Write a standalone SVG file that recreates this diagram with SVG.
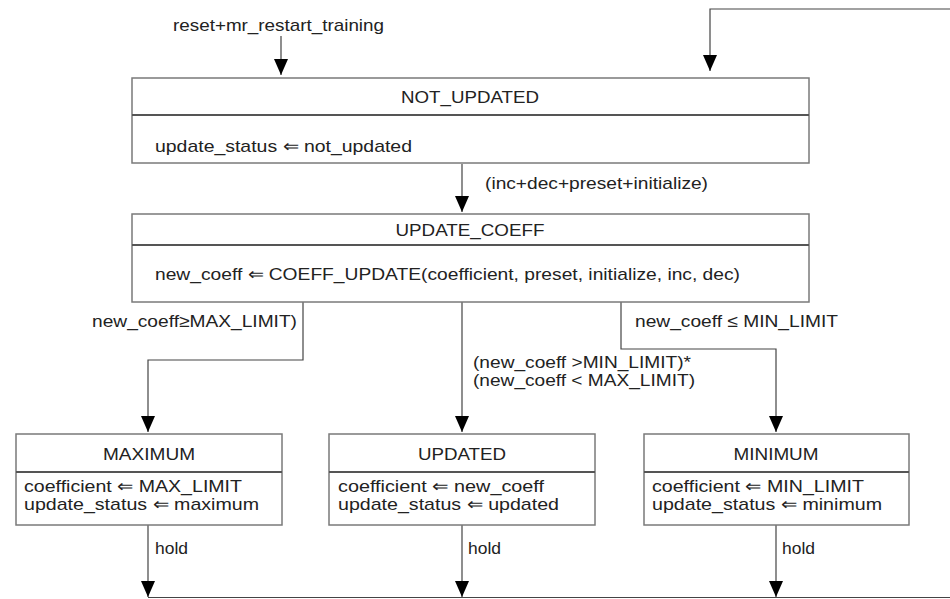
<svg xmlns="http://www.w3.org/2000/svg" width="950" height="599" viewBox="0 0 950 599">
<style>
.box{fill:#fff;stroke:#7a7a7a;stroke-width:1.5}
.div{stroke:#555;stroke-width:2}
.c{fill:none;stroke:#444;stroke-width:1.2}
text{font-family:"Liberation Sans",Arial,sans-serif;font-size:17px;fill:#222}
.t{text-anchor:middle}
</style>
<defs>
<marker id="ah" markerUnits="userSpaceOnUse" markerWidth="17" markerHeight="15" refX="16" refY="7" orient="auto">
<path d="M0,0 L16,7 L0,14 z" fill="#000"/>
</marker>
</defs>
<rect width="950" height="599" fill="#fff"/>
<g id="connectors">
<path class="c" d="M281,36 V75" marker-end="url(#ah)"/>
<path class="c" d="M950,9 H710 V71" marker-end="url(#ah)"/>
<path class="c" d="M462,164 V212" marker-end="url(#ah)"/>
<path class="c" d="M303,302 V360 H148 V432" marker-end="url(#ah)"/>
<path class="c" d="M462,302 V432" marker-end="url(#ah)"/>
<path class="c" d="M621,302 V349 H776 V432" marker-end="url(#ah)"/>
<path class="c" d="M148,525 V597" marker-end="url(#ah)"/>
<path class="c" d="M462,525 V597" marker-end="url(#ah)"/>
<path class="c" d="M776,525 V597" marker-end="url(#ah)"/>
<path class="c" d="M148,597.5 H950"/>
<text x="173" y="31" textLength="211" lengthAdjust="spacingAndGlyphs">reset+mr_restart_training</text>
<text x="485" y="189" textLength="223" lengthAdjust="spacingAndGlyphs">(inc+dec+preset+initialize)</text>
<text x="92" y="327" textLength="205" lengthAdjust="spacingAndGlyphs">new_coeff≥MAX_LIMIT)</text>
<text x="635" y="327" textLength="203" lengthAdjust="spacingAndGlyphs">new_coeff ≤ MIN_LIMIT</text>
<text x="473" y="368" textLength="218" lengthAdjust="spacingAndGlyphs">(new_coeff &gt;MIN_LIMIT)*</text>
<text x="473" y="386" textLength="222" lengthAdjust="spacingAndGlyphs">(new_coeff &lt; MAX_LIMIT)</text>
<text x="155" y="554" textLength="33" lengthAdjust="spacingAndGlyphs">hold</text>
<text x="468" y="554" textLength="33" lengthAdjust="spacingAndGlyphs">hold</text>
<text x="782" y="554" textLength="33" lengthAdjust="spacingAndGlyphs">hold</text>
</g>
<g id="not_updated">
<rect class="box" x="132" y="78" width="677" height="85"/>
<line class="div" x1="132" y1="115" x2="809" y2="115"/>
<text class="t" x="470" y="103" textLength="138" lengthAdjust="spacingAndGlyphs">NOT_UPDATED</text>
<text x="155" y="152" textLength="257" lengthAdjust="spacingAndGlyphs">update_status ⇐ not_updated</text>
</g>
<g id="update_coeff">
<rect class="box" x="132" y="214" width="677" height="88"/>
<line class="div" x1="132" y1="245" x2="809" y2="245"/>
<text class="t" x="470" y="236" textLength="149" lengthAdjust="spacingAndGlyphs">UPDATE_COEFF</text>
<text x="155" y="280" textLength="585" lengthAdjust="spacingAndGlyphs">new_coeff ⇐ COEFF_UPDATE(coefficient, preset, initialize, inc, dec)</text>
</g>
<g id="maximum">
<rect class="box" x="16" y="434" width="266" height="91"/>
<line class="div" x1="16" y1="472" x2="282" y2="472"/>
<text class="t" x="149" y="460" textLength="92" lengthAdjust="spacingAndGlyphs">MAXIMUM</text>
<text x="24" y="492" textLength="218" lengthAdjust="spacingAndGlyphs">coefficient ⇐ MAX_LIMIT</text>
<text x="24" y="510" textLength="235" lengthAdjust="spacingAndGlyphs">update_status ⇐ maximum</text>
</g>
<g id="updated">
<rect class="box" x="329" y="434" width="266" height="91"/>
<line class="div" x1="329" y1="472" x2="595" y2="472"/>
<text class="t" x="462" y="460" textLength="88" lengthAdjust="spacingAndGlyphs">UPDATED</text>
<text x="338" y="492" textLength="206" lengthAdjust="spacingAndGlyphs">coefficient ⇐ new_coeff</text>
<text x="338" y="510" textLength="221" lengthAdjust="spacingAndGlyphs">update_status ⇐ updated</text>
</g>
<g id="minimum">
<rect class="box" x="644" y="434" width="265" height="91"/>
<line class="div" x1="644" y1="472" x2="909" y2="472"/>
<text class="t" x="776" y="460" textLength="85" lengthAdjust="spacingAndGlyphs">MINIMUM</text>
<text x="652" y="492" textLength="212" lengthAdjust="spacingAndGlyphs">coefficient ⇐ MIN_LIMIT</text>
<text x="652" y="510" textLength="230" lengthAdjust="spacingAndGlyphs">update_status ⇐ minimum</text>
</g>
</svg>
